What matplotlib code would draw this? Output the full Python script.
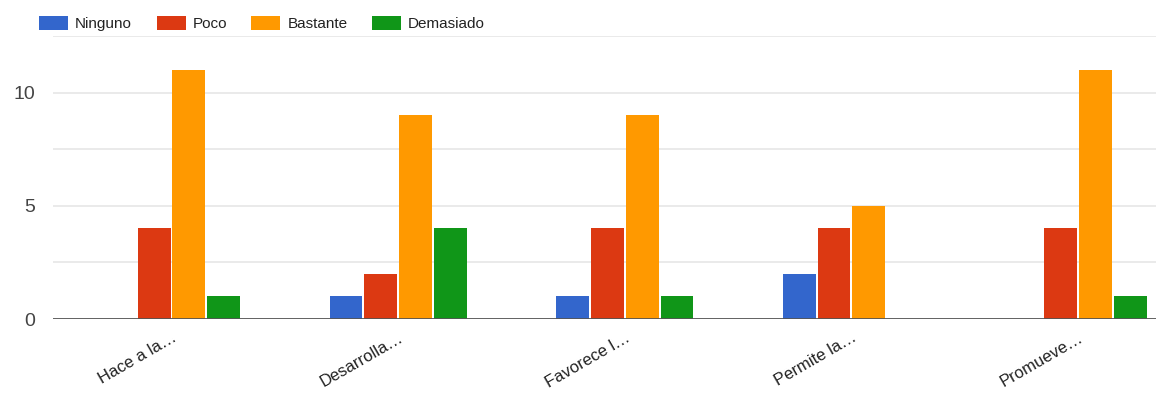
import numpy as np
import matplotlib.pyplot as plt
from matplotlib.patches import Patch

plt.rcParams['font.family'] = ['Liberation Sans', 'DejaVu Sans']

categories = ["Hace a la…", "Desarrolla…", "Favorece l…", "Permite la…", "Promueve…"]
series = ["Ninguno", "Poco", "Bastante", "Demasiado"]
ninguno = [0, 1, 1, 2, 0]
poco = [4, 2, 4, 4, 4]
bastante = [11, 9, 9, 5, 11]
demasiado = [1, 4, 1, 0, 1]
colors = ["#3366cc", "#dc3912", "#ff9900", "#109618"]

fig = plt.figure(figsize=(11.56, 3.95), dpi=100)
ax = fig.add_axes([0.0458, 0.1924, 0.9542, 0.7165])

x = np.arange(len(categories))
slot = 0.1535
width = 0.145
for i, (vals, c) in enumerate(zip([ninguno, poco, bastante, demasiado], colors)):
    ax.bar(x + (i - 1.5) * slot, vals, width, color=c, zorder=3)

ax.set_xlim(-0.523, 4.344)
ax.set_ylim(0, 12.5)
ax.set_yticks([0, 5, 10])
ax.set_yticks([2.5, 7.5, 12.5], minor=True)
ax.grid(axis='y', which='both', color='#e6e6e6', linewidth=1.2, zorder=0)
ax.axhline(0, color='#555555', linewidth=2, zorder=4)
for s in ax.spines.values():
    s.set_visible(False)
ax.tick_params(axis='y', which='both', length=0, labelsize=14, labelcolor='#444444', pad=13)
ax.tick_params(axis='x', length=0, labelsize=12, labelcolor='#222222', pad=8)
ax.set_xticks(x)
ax.set_xticklabels(categories, rotation=30, ha='right', rotation_mode='anchor')

handles = [Patch(facecolor=c, label=s) for s, c in zip(series, colors)]
fig.legend(handles=handles, loc='center left', bbox_to_anchor=(0.034, 0.94), ncol=4,
           frameon=False, fontsize=11, handlelength=1.9, handleheight=1.0,
           handletextpad=0.45, columnspacing=1.6, labelcolor='#222222',
           borderaxespad=0, borderpad=0)

fig.savefig("out.png", dpi=100)
